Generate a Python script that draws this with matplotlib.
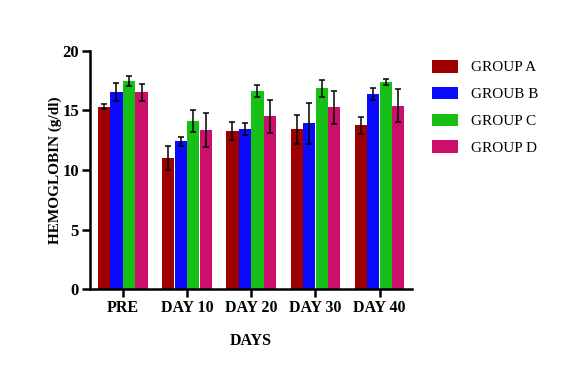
import matplotlib
matplotlib.use("Agg")
import matplotlib.pyplot as plt
import numpy as np

days = ["PRE", "DAY 10", "DAY 20", "DAY 30", "DAY 40"]
groups = ["GROUP A", "GROUB B", "GROUP C", "GROUP D"]
colors = ["#9E0000", "#0A0AFF", "#17C017", "#CC0F6B"]

group_a = [15.3, 11.0, 13.25, 13.4, 13.75]
group_b = [16.55, 12.4, 13.45, 13.9, 16.4]
group_c = [17.45, 14.1, 16.6, 16.85, 17.4]
group_d = [16.5, 13.35, 14.5, 15.25, 15.4]

err_a = [0.22, 1.0, 0.75, 1.2, 0.7]
err_b = [0.75, 0.35, 0.5, 1.75, 0.5]
err_c = [0.45, 0.95, 0.5, 0.7, 0.25]
err_d = [0.7, 1.4, 1.4, 1.4, 1.4]

values = [group_a, group_b, group_c, group_d]
errors = [err_a, err_b, err_c, err_d]

plt.rcParams['font.family'] = ['Liberation Serif', 'DejaVu Serif']

fig = plt.figure(figsize=(5.86, 3.69), dpi=100)
ax = fig.add_axes([0.1536, 0.216, 0.549, 0.6466])

x = np.arange(len(days))
width = 0.19
for i, (vals, errs, c, lab) in enumerate(zip(values, errors, colors, groups)):
    pos = x + (i - 1.5) * 0.195
    ax.bar(pos, vals, width, color=c, label=lab, edgecolor='none')
    ax.errorbar(pos, vals, yerr=errs, fmt='none', ecolor='black',
                elinewidth=1.1, capsize=2.5, capthick=1.1)

ax.set_xlim(-0.51, 4.5)
ax.set_ylim(0, 20)
ax.set_yticks([0, 5, 10, 15, 20])
ax.set_xticks(x)
ax.set_xticklabels(days, fontsize=11.5, fontweight='bold')
for t in ax.get_yticklabels():
    t.set_fontsize(12)
    t.set_fontweight('bold')
ax.spines['top'].set_visible(False)
ax.spines['right'].set_visible(False)
ax.spines['left'].set_linewidth(1.8)
ax.spines['bottom'].set_linewidth(1.8)
ax.tick_params(axis='both', direction='out', width=1.8, length=6, pad=2)
ax.set_ylabel("HEMOGLOBIN (g/dl)", fontsize=11, fontweight='bold', labelpad=0)
ax.set_xlabel("DAYS", fontsize=11.5, fontweight='bold', labelpad=12)

leg = ax.legend(loc='upper left', bbox_to_anchor=(0.713, 0.875), bbox_transform=fig.transFigure,
                frameon=False, fontsize=11, handlelength=1.75, handleheight=0.9,
                labelspacing=0.8, handletextpad=0.8)

fig.savefig("out.png", dpi=100)
